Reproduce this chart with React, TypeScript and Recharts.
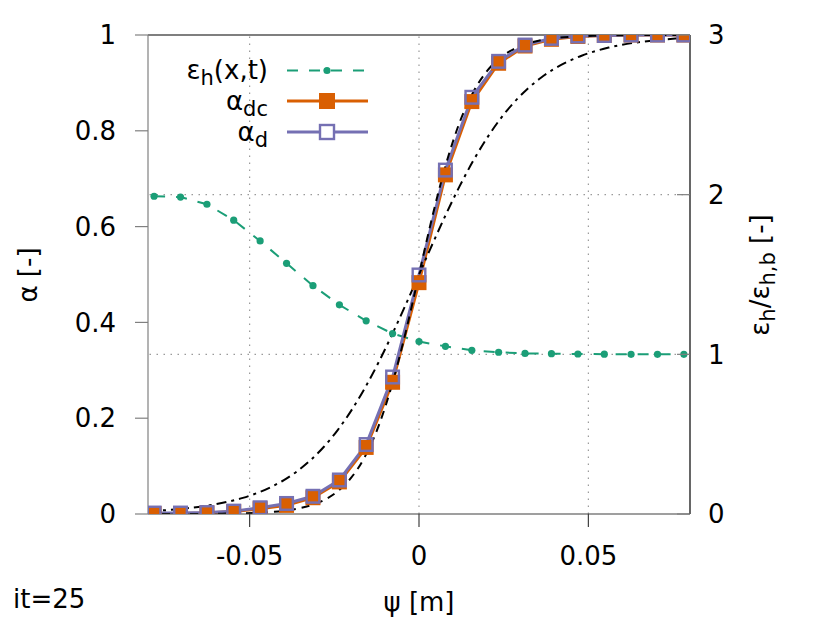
import React from 'react';
import { ComposedChart, Line, XAxis, YAxis, ReferenceLine } from 'recharts';

// psi positions of the discrete samples [m]
const psi = [
  -0.0782, -0.0704, -0.0626, -0.0547, -0.0469, -0.0391, -0.0313, -0.0235, -0.0156, -0.0078, 0,
  0.0078, 0.0156, 0.0235, 0.0313, 0.0391, 0.0469, 0.0547, 0.0626, 0.0704, 0.0782,
];
// eps_h / eps_h,b (right axis)
const epsRatio = [
  1.99, 1.985, 1.94, 1.84, 1.71, 1.57, 1.43, 1.31, 1.21, 1.13, 1.08,
  1.05, 1.025, 1.013, 1.006, 1.004, 1.002, 1.001, 1.0, 1.0, 1.0,
];
// alpha_dc
const alphaDc = [
  0.001, 0.001, 0.002, 0.005, 0.011, 0.018, 0.034, 0.067, 0.139, 0.275, 0.483,
  0.708, 0.861, 0.941, 0.977, 0.991, 0.997, 0.999, 1.0, 1.0, 1.0,
];
// alpha_d
const alphaD = [
  0.002, 0.002, 0.003, 0.006, 0.013, 0.022, 0.037, 0.071, 0.145, 0.286, 0.499,
  0.718, 0.870, 0.945, 0.979, 0.993, 0.998, 0.999, 1.0, 1.0, 1.0,
];
// fine positions for the two reference profiles
const psiFine = [
  -0.08, -0.076, -0.072, -0.068, -0.064, -0.06, -0.056, -0.052, -0.048, -0.044, -0.04,
  -0.036, -0.032, -0.028, -0.024, -0.02, -0.016, -0.012, -0.008, -0.004, 0,
  0.004, 0.008, 0.012, 0.016, 0.02, 0.024, 0.028, 0.032, 0.036, 0.04,
  0.044, 0.048, 0.052, 0.056, 0.06, 0.064, 0.068, 0.072, 0.076, 0.08,
];
// wide (dash-dot) profile
const alphaWide = [
  0.0057, 0.0074, 0.0095, 0.0123, 0.0158, 0.0204, 0.0263, 0.0337, 0.0432, 0.0553, 0.0704,
  0.0892, 0.1125, 0.141, 0.1753, 0.2159, 0.2627, 0.3156, 0.3738, 0.4359, 0.5,
  0.5641, 0.6262, 0.6844, 0.7373, 0.7841, 0.8247, 0.859, 0.8875, 0.9108, 0.9296,
  0.9447, 0.9568, 0.9663, 0.9737, 0.9796, 0.9842, 0.9877, 0.9905, 0.9926, 0.9943,
];
// sharp (dashed) profile
const alphaSharp = [
  0.0, 0.0001, 0.0001, 0.0002, 0.0003, 0.0006, 0.0009, 0.0015, 0.0025, 0.0041, 0.0067,
  0.011, 0.018, 0.0293, 0.0474, 0.0759, 0.1192, 0.1824, 0.2689, 0.3775, 0.5,
  0.6225, 0.7311, 0.8176, 0.8808, 0.9241, 0.9526, 0.9707, 0.982, 0.989, 0.9933,
  0.9959, 0.9975, 0.9985, 0.9991, 0.9994, 0.9997, 0.9998, 0.9999, 0.9999, 1.0,
];
const xTicks = [-0.05, 0, 0.05];
const yTicks = [0, 0.2, 0.4, 0.6, 0.8, 1];
const y2Ticks = [0, 1, 2, 3];
const xGrid = [-0.05, 0, 0.05];
const y2Grid = [1, 2];

const toPoints = (xs: number[], ys: number[]) => xs.map((x, i) => ({ x, y: ys[i] }));
const epsData = toPoints(psi, epsRatio);
const dcData = toPoints(psi, alphaDc);
const dData = toPoints(psi, alphaD);
const wideData = toPoints(psiFine, alphaWide);
const sharpData = toPoints(psiFine, alphaSharp);

const FONT = 'DejaVu Sans';
const FS = 26;
const GREEN = '#1b9e77';
const ORANGE = '#d95f02';
const PURPLE = '#7570b3';
const SQ = 15;

const OrangeSquare = (props: any) => {
  const { cx, cy, index } = props;
  if (cx == null || cy == null) return <g key={`o${index}`} />;
  return <rect key={`o${index}`} x={cx - SQ / 2} y={cy - SQ / 2} width={SQ} height={SQ} fill={ORANGE} />;
};
const PurpleSquare = (props: any) => {
  const { cx, cy, index } = props;
  if (cx == null || cy == null) return <g key={`p${index}`} />;
  return (
    <rect key={`p${index}`} x={cx - SQ / 2 + 1.2} y={cy - SQ / 2 + 1.2} width={SQ - 2.4} height={SQ - 2.4}
      fill="none" stroke={PURPLE} strokeWidth={2.4} />
  );
};
const GreenDot = (props: any) => {
  const { cx, cy, index } = props;
  if (cx == null || cy == null) return <g key={`g${index}`} />;
  return <circle key={`g${index}`} cx={cx} cy={cy} r={3.6} fill={GREEN} />;
};

const RightTick = (props: any) => {
  const { x, y, payload } = props;
  return (
    <g>
      <line x1={x - 18} x2={x - 31} y1={y} y2={y} stroke="#808080" strokeWidth={1.2} />
      <text x={x} y={y} dy="0.355em" textAnchor="start" fontFamily={FONT} fontSize={FS} fill="#000">
        {payload.value}
      </text>
    </g>
  );
};

export default function App() {
  return (
    <div style={{ position: 'absolute', left: 0, top: 0, width: 830, height: 623, background: '#fff' }}>
      <ComposedChart width={830} height={623} margin={{ top: 35, right: 0, bottom: 0, left: 0 }}>
        <XAxis
          xAxisId="x"
          type="number"
          dataKey="x"
          domain={[-0.08, 0.08]}
          allowDataOverflow
          ticks={xTicks}
          height={109}
          tickSize={13}
          tickMargin={20}
          axisLine={{ stroke: '#404040', strokeWidth: 1.2 }}
          tickLine={{ stroke: '#404040', strokeWidth: 1.2 }}
          tick={{ fill: '#000', fontFamily: FONT, fontSize: FS }}
        />
        <YAxis
          yAxisId="l"
          orientation="left"
          type="number"
          domain={[0, 1]}
          allowDataOverflow
          ticks={yTicks}
          width={148}
          tickSize={13}
          tickMargin={19}
          axisLine={{ stroke: '#808080', strokeWidth: 1.2 }}
          tickLine={{ stroke: '#808080', strokeWidth: 1.2 }}
          tick={{ fill: '#000', fontFamily: FONT, fontSize: FS }}
        />
        <YAxis
          yAxisId="r"
          orientation="right"
          type="number"
          domain={[0, 3]}
          allowDataOverflow
          ticks={y2Ticks}
          width={140}
          tickSize={0}
          tickMargin={18}
          axisLine={{ stroke: '#000', strokeWidth: 1.2 }}
          tickLine={false}
          tick={<RightTick />}
        />
        {xGrid.map((v) => (
          <ReferenceLine key={`gx${v}`} xAxisId="x" yAxisId="l" x={v} stroke="#9a9a9a" strokeWidth={1.2} strokeDasharray="1.5 5.5" />
        ))}
        {y2Grid.map((v) => (
          <ReferenceLine key={`gy${v}`} xAxisId="x" yAxisId="r" y={v} stroke="#9a9a9a" strokeWidth={1.2} strokeDasharray="1.5 5.5" />
        ))}
        <ReferenceLine xAxisId="x" yAxisId="l" y={1} stroke="#000" strokeWidth={1.2} />
        <Line
          xAxisId="x"
          yAxisId="r"
          data={epsData}
          dataKey="y"
          type="linear"
          stroke={GREEN}
          strokeWidth={2}
          strokeDasharray="11 11"
          dot={GreenDot}
          activeDot={false}
          isAnimationActive={false}
        />
        <Line
          xAxisId="x"
          yAxisId="l"
          data={dcData}
          dataKey="y"
          type="linear"
          stroke={ORANGE}
          strokeWidth={3}
          dot={OrangeSquare}
          activeDot={false}
          isAnimationActive={false}
        />
        <Line
          xAxisId="x"
          yAxisId="l"
          data={dData}
          dataKey="y"
          type="linear"
          stroke={PURPLE}
          strokeWidth={3}
          dot={PurpleSquare}
          activeDot={false}
          isAnimationActive={false}
        />
        <Line
          xAxisId="x"
          yAxisId="l"
          data={wideData}
          dataKey="y"
          type="monotone"
          stroke="#000"
          strokeWidth={2}
          strokeDasharray="10 5 3 5"
          dot={false}
          activeDot={false}
          isAnimationActive={false}
        />
        <Line
          xAxisId="x"
          yAxisId="l"
          data={sharpData}
          dataKey="y"
          type="monotone"
          stroke="#000"
          strokeWidth={2}
          strokeDasharray="8 6"
          dot={false}
          activeDot={false}
          isAnimationActive={false}
        />
      </ComposedChart>
      <svg
        width={830}
        height={623}
        style={{ position: 'absolute', left: 0, top: 0, pointerEvents: 'none' }}
        fontFamily={FONT}
        fontSize={FS}
      >
        {/* legend */}
        <text x={268} y={79} textAnchor="end" fill="#000">
          <tspan>ε</tspan>
          <tspan fontSize={21} dy={6}>h</tspan>
          <tspan dy={-6}>(x,t)</tspan>
        </text>
        <line x1={287} x2={368} y1={70.5} y2={70.5} stroke={GREEN} strokeWidth={2} strokeDasharray="11 11" />
        <circle cx={327} cy={70.5} r={3.6} fill={GREEN} />
        <text x={268} y={110} textAnchor="end" fill="#000">
          <tspan>α</tspan>
          <tspan fontSize={21} dy={6}>dc</tspan>
        </text>
        <line x1={287} x2={368} y1={101} y2={101} stroke={ORANGE} strokeWidth={3} />
        <rect x={327 - 8} y={101 - 8} width={16} height={16} fill={ORANGE} />
        <text x={268} y={141} textAnchor="end" fill="#000">
          <tspan>α</tspan>
          <tspan fontSize={21} dy={6}>d</tspan>
        </text>
        <line x1={287} x2={368} y1={132} y2={132} stroke={PURPLE} strokeWidth={3} />
        <rect x={327 - 7} y={132 - 7} width={14} height={14} fill="#fff" stroke={PURPLE} strokeWidth={2.4} />
        {/* axis labels */}
        <text x={28} y={275} textAnchor="middle" dy="0.355em" transform="rotate(-90 28 275)" fill="#000">
          α [-]
        </text>
        <text x={760} y={275} textAnchor="middle" dy="0.355em" transform="rotate(-90 760 275)" fill="#000">
          <tspan>ε</tspan>
          <tspan fontSize={21} dy={6}>h</tspan>
          <tspan dy={-6}>/ε</tspan>
          <tspan fontSize={21} dy={6}>h,b</tspan>
          <tspan dy={-6}> [-]</tspan>
        </text>
        <text x={419} y={611} textAnchor="middle" fill="#000">ψ [m]</text>
        <text x={13} y={608} textAnchor="start" fill="#000">it=25</text>
      </svg>
    </div>
  );
}
